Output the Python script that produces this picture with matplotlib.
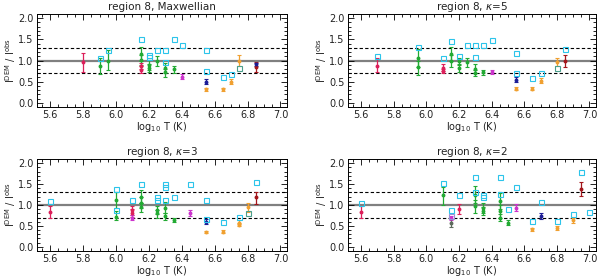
import matplotlib
matplotlib.use("Agg")
import matplotlib.pyplot as plt
from matplotlib.ticker import MultipleLocator, FormatStrFormatter

plt.rcParams['font.family'] = ['DejaVu Sans']

titles = ["region 8, Maxwellian", r"region 8, $\kappa$=5",
          r"region 8, $\kappa$=3", r"region 8, $\kappa$=2"]

group_colors = {'red': '#dc1f5a', 'green': '#22aa33', 'magenta': '#cc33cc',
                'navy': '#1c1c96', 'orange': '#f0a030', 'darkred': '#a3161b',
                'gray': '#5d6b5d'}
square_colors = {'cyan': '#2cc4ea', 'teal': '#4a9f8c', 'lavender': '#9a8fd8'}

# ---- panel 1: Maxwellian ----
p1_T   = [5.80, 5.90, 5.95, 6.15, 6.15, 6.15, 6.15, 6.20, 6.20, 6.25, 6.30, 6.30, 6.35, 6.40, 6.55, 6.55, 6.65, 6.70, 6.75, 6.85, 6.85]
p1_val = [0.97, 0.86, 1.00, 1.15, 1.02, 0.88, 0.78, 0.90, 0.83, 1.00, 0.82, 0.72, 0.79, 0.62, 0.50, 0.32, 0.32, 0.49, 1.00, 0.85, 0.91]
p1_lo  = [0.72, 0.67, 0.78, 1.00, 0.90, 0.80, 0.70, 0.78, 0.72, 0.88, 0.70, 0.62, 0.71, 0.56, 0.45, 0.29, 0.29, 0.44, 0.87, 0.73, 0.86]
p1_hi  = [1.17, 1.05, 1.24, 1.32, 1.12, 0.95, 0.86, 1.02, 0.92, 1.10, 0.95, 0.80, 0.87, 0.67, 0.56, 0.36, 0.36, 0.56, 1.12, 0.97, 0.95]
p1_grp = ['red', 'green', 'green', 'green', 'green', 'red', 'red', 'green', 'green', 'green', 'green', 'green', 'green',
          'magenta', 'navy', 'orange', 'orange', 'orange', 'orange', 'darkred', 'navy']
p1_sq_T   = [5.90, 5.95, 6.15, 6.20, 6.20, 6.25, 6.30, 6.30, 6.35, 6.40, 6.55, 6.55, 6.65, 6.70, 6.75]
p1_sq_val = [1.07, 1.25, 1.50, 1.13, 1.09, 1.25, 1.24, 0.97, 1.50, 1.37, 1.25, 0.76, 0.62, 0.69, 0.83]
p1_sq_grp = ['cyan'] * 14 + ['teal']

# ---- panel 2: kappa=5 ----
p2_T   = [5.70, 5.95, 5.95, 6.10, 6.10, 6.15, 6.15, 6.20, 6.20, 6.25, 6.30, 6.30, 6.35, 6.40, 6.55, 6.55, 6.65, 6.70, 6.80, 6.85]
p2_val = [0.88, 1.05, 0.85, 0.82, 0.74, 1.15, 1.00, 0.98, 0.82, 0.96, 0.80, 0.70, 0.72, 0.72, 0.55, 0.33, 0.33, 0.52, 0.96, 1.00]
p2_lo  = [0.73, 0.85, 0.66, 0.75, 0.70, 0.98, 0.85, 0.90, 0.72, 0.85, 0.70, 0.63, 0.66, 0.67, 0.50, 0.30, 0.30, 0.46, 0.86, 0.85]
p2_hi  = [1.05, 1.27, 1.00, 0.92, 0.80, 1.32, 1.12, 1.05, 0.92, 1.05, 0.92, 0.78, 0.78, 0.78, 0.61, 0.37, 0.37, 0.58, 1.06, 1.13]
p2_grp = ['red', 'green', 'green', 'red', 'red', 'green', 'green', 'green', 'green', 'green', 'green', 'green', 'green',
          'magenta', 'navy', 'orange', 'orange', 'orange', 'orange', 'darkred']
p2_sq_T   = [5.70, 5.95, 6.10, 6.15, 6.20, 6.25, 6.30, 6.30, 6.35, 6.40, 6.55, 6.55, 6.65, 6.70, 6.85, 6.80]
p2_sq_val = [1.10, 1.32, 1.07, 1.47, 1.10, 1.37, 1.37, 1.09, 1.37, 1.49, 1.17, 0.70, 0.59, 0.70, 1.27, 0.82]
p2_sq_grp = ['cyan'] * 15 + ['teal']

# ---- panel 3: kappa=3 ----
p3_T   = [5.60, 6.00, 6.00, 6.10, 6.10, 6.10, 6.15, 6.15, 6.15, 6.25, 6.25, 6.30, 6.30, 6.35, 6.45, 6.55, 6.55, 6.65, 6.75, 6.75, 6.80, 6.85]
p3_val = [0.84, 1.12, 0.72, 0.88, 0.80, 0.70, 1.18, 1.05, 0.95, 0.88, 0.80, 0.92, 0.73, 0.63, 0.80, 0.60, 0.35, 0.36, 0.58, 0.53, 0.95, 1.18]
p3_lo  = [0.70, 0.92, 0.63, 0.76, 0.72, 0.63, 1.05, 0.92, 0.83, 0.78, 0.70, 0.80, 0.64, 0.59, 0.74, 0.55, 0.32, 0.33, 0.54, 0.50, 0.83, 1.03]
p3_hi  = [0.98, 1.32, 0.85, 0.98, 0.90, 0.77, 1.37, 1.18, 1.05, 0.98, 0.88, 1.08, 0.82, 0.70, 0.87, 0.66, 0.38, 0.40, 0.63, 0.56, 1.05, 1.30]
p3_grp = ['red', 'green', 'green', 'red', 'red', 'magenta', 'green', 'green', 'green', 'green', 'green', 'green', 'green',
          'green', 'magenta', 'navy', 'orange', 'orange', 'orange', 'orange', 'orange', 'darkred']
p3_sq_T   = [5.60, 6.00, 6.00, 6.10, 6.15, 6.25, 6.25, 6.30, 6.30, 6.30, 6.35, 6.45, 6.55, 6.55, 6.65, 6.75, 6.85, 6.80]
p3_sq_val = [1.10, 1.39, 0.87, 1.13, 1.50, 1.18, 1.12, 1.50, 1.43, 1.12, 1.19, 1.50, 1.12, 0.66, 0.59, 0.71, 1.55, 0.80]
p3_sq_grp = ['cyan'] * 17 + ['teal']

# ---- panel 4: kappa=2 ----
p4_T   = [5.60, 6.10, 6.15, 6.15, 6.20, 6.30, 6.30, 6.35, 6.35, 6.45, 6.45, 6.45, 6.50, 6.55, 6.65, 6.70, 6.80, 6.90, 6.95]
p4_val = [0.84, 1.23, 0.68, 0.57, 0.90, 1.25, 0.98, 0.92, 0.85, 1.10, 0.85, 0.70, 0.58, 0.94, 0.42, 0.73, 0.45, 0.63, 1.38]
p4_lo  = [0.70, 1.00, 0.63, 0.48, 0.78, 1.05, 0.80, 0.80, 0.75, 0.90, 0.70, 0.62, 0.53, 0.86, 0.38, 0.66, 0.40, 0.58, 1.22]
p4_hi  = [0.97, 1.43, 0.74, 0.66, 1.03, 1.45, 1.12, 1.05, 0.95, 1.28, 1.00, 0.78, 0.63, 1.03, 0.46, 0.80, 0.50, 0.70, 1.55]
p4_grp = ['red', 'green', 'magenta', 'gray', 'red', 'green', 'green', 'green', 'green', 'green', 'green', 'green', 'green',
          'magenta', 'orange', 'navy', 'orange', 'orange', 'darkred']
p4_sq_T   = [5.60, 6.10, 6.15, 6.20, 6.30, 6.30, 6.35, 6.35, 6.45, 6.45, 6.50, 6.55, 6.65, 6.70, 6.80, 6.90, 6.95, 7.00, 6.15]
p4_sq_val = [1.05, 1.53, 0.88, 1.23, 1.67, 1.30, 1.25, 1.18, 1.67, 1.27, 0.90, 1.42, 0.62, 1.08, 0.62, 0.78, 1.80, 0.84, 0.73]
p4_sq_grp = ['cyan'] * 18 + ['lavender']

panels = [
    (p1_T, p1_val, p1_lo, p1_hi, p1_grp, p1_sq_T, p1_sq_val, p1_sq_grp),
    (p2_T, p2_val, p2_lo, p2_hi, p2_grp, p2_sq_T, p2_sq_val, p2_sq_grp),
    (p3_T, p3_val, p3_lo, p3_hi, p3_grp, p3_sq_T, p3_sq_val, p3_sq_grp),
    (p4_T, p4_val, p4_lo, p4_hi, p4_grp, p4_sq_T, p4_sq_val, p4_sq_grp),
]

W, H = 600, 278
fig = plt.figure(figsize=(W / 100, H / 100), dpi=100)
boxes = [(37, 14, 250, 93), (348, 14, 248, 93), (37, 159, 250, 92), (348, 159, 248, 92)]
txt = '#222222'

for i, (box, data, title) in enumerate(zip(boxes, panels, titles)):
    x0, y0, w, h = box
    ax = fig.add_axes([x0 / W, 1 - (y0 + h) / H, w / W, h / H])
    T, val, lo, hi, grp, sT, sval, sgrp = data
    ax.axhline(1.0, color='#808080', lw=1.6, zorder=1)
    ax.axhline(1.3, color='black', lw=0.8, ls=(0, (3, 2)), zorder=1)
    ax.axhline(0.7, color='black', lw=0.8, ls=(0, (3, 2)), zorder=1)
    for t, v, l, u, g in zip(T, val, lo, hi, grp):
        c = group_colors[g]
        ax.errorbar([t], [v], yerr=[[v - l], [u - v]], fmt='o', ms=1.8, color=c,
                    ecolor=c, elinewidth=0.9, capsize=1.6, capthick=0.8, zorder=3)
    for t, v, g in zip(sT, sval, sgrp):
        ax.plot([t], [v], marker='s', ms=3.6, mfc='none', mec=square_colors[g], mew=0.8,
                ls='none', zorder=4)
    ax.set_xlim(5.52, 7.04)
    ax.set_ylim(-0.1, 2.1)
    ax.xaxis.set_major_locator(MultipleLocator(0.2))
    ax.xaxis.set_minor_locator(MultipleLocator(0.05))
    ax.yaxis.set_major_locator(MultipleLocator(0.5))
    ax.yaxis.set_minor_locator(MultipleLocator(0.1))
    ax.tick_params(which='both', direction='in', top=True, right=True, labelsize=7,
                   colors='black', labelcolor=txt, width=0.6, pad=2.5)
    ax.tick_params(which='major', length=4)
    ax.tick_params(which='minor', length=2)
    ax.xaxis.set_major_formatter(FormatStrFormatter('%.1f'))
    ax.yaxis.set_major_formatter(FormatStrFormatter('%.1f'))
    for s in ax.spines.values():
        s.set_linewidth(0.7)
    ax.set_title(title, fontsize=7.5, color=txt, pad=3)
    ax.set_xlabel(r'log$_{10}$ T (K)', fontsize=7, color=txt, labelpad=0)
    ax.set_ylabel(r'I$^{\rm DEM}$ / I$^{\rm obs}$', fontsize=7, color=txt)
    ax.yaxis.set_label_coords(-0.075, 0.5)

fig.savefig('out.png', dpi=100)
